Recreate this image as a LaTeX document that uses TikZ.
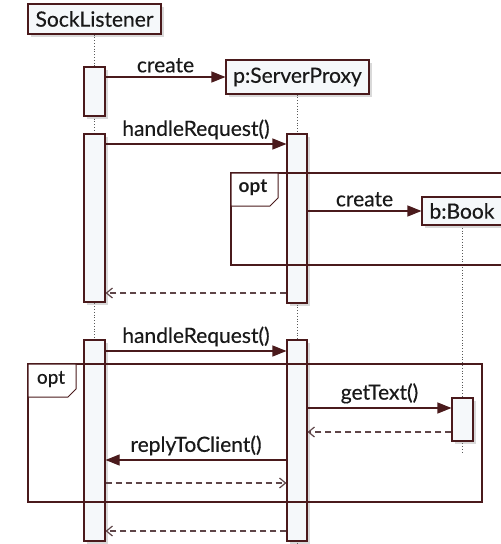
\documentclass[tikz,border=0pt]{standalone}
\usepackage{fontspec}
\setmainfont{Lato}[FakeBold=0.4, BoldFont=Lato Bold, BoldFeatures={FakeBold=0}]
\usetikzlibrary{arrows.meta,shadows}
\definecolor{ln}{HTML}{4A1A1C}
\definecolor{bx}{HTML}{F5F8FA}
\definecolor{dl}{HTML}{5E4548}
\begin{document}
\begin{tikzpicture}[x=1pt,y=-1pt, font=\fontsize{21}{24}\selectfont,
 obj/.style={draw=ln, line width=1.1pt, fill=bx, inner sep=0pt, text=black!90,
   drop shadow={opacity=0.3,shadow xshift=2.5pt,shadow yshift=-2.5pt}},
 act/.style={obj, minimum width=21pt},
 msg/.style={draw=ln, line width=1.1pt, -{Triangle[length=14pt,width=11pt]}},
 ret/.style={draw=dl, line width=1.2pt, dash pattern=on 6pt off 4pt, -{Straight Barb[length=6pt,width=10pt]}},
 life/.style={draw=gray!70!black, line width=0.8pt, dotted},
 frm/.style={draw=ln, line width=1.1pt},
 tag/.style={draw=ln, line width=1pt, fill=white},
 lbl/.style={midway, above, inner sep=4pt, text=black!90}]
\useasboundingbox (0,0) rectangle (501,544);
\clip (0,0) rectangle (501,544);
\coordinate (bot) at (0,544);
\coordinate (bbot) at (0,452);
% heads
\node[obj, minimum width=133pt, minimum height=30pt] (sock) at (94.5,19) {SockListener};
\node[obj, minimum width=143pt, minimum height=34pt] (proxy) at (297.5,77) {p:ServerProxy};
% lifelines
\draw[life] (sock.south) -- (sock.south |- bot);
\draw[life] (proxy.south) -- (proxy.south |- bot);
\coordinate (btop) at (462,211);
\draw[life] (btop) -- (btop |- bbot);
% activations
\node[act, minimum height=49pt] (sa1) at (94.5,91.5) {};
\node[act, minimum height=168pt] (sa2) at (94.5,218) {};
\node[act, minimum height=201pt] (sa3) at (94.5,440.5) {};
\node[act, minimum width=20pt, minimum height=169pt] (pa1) at (297,218.5) {};
\node[act, minimum width=20pt, minimum height=201pt] (pa2) at (297,440.5) {};
\node[act, minimum height=43pt] (ba1) at (462.5,419.5) {};
% frames
\draw[frm] (231,173) rectangle (530,265);
\draw[tag] (231,173) -- (278,173) -- (278,198) -- (270,206) -- (231,206) -- cycle;
\node[font=\fontsize{19}{22}\selectfont\bfseries, text=black!90] (opt1) at (253,188) {opt};
\draw[frm] (28,364) rectangle (482,502);
\draw[tag] (28,364) -- (76,364) -- (76,389) -- (68,397) -- (28,397) -- cycle;
\node[font=\fontsize{19}{22}\selectfont, text=black!90] (opt2) at (51,379) {opt};
% book head
\node[obj, minimum width=80pt, minimum height=28pt] (book) at (462,211) {b:Book};
% message levels
\coordinate (m2) at (0,144);
\coordinate (r1) at (0,293);
\coordinate (m4) at (0,351);
\coordinate (m5) at (0,408);
\coordinate (r2) at (0,432);
\coordinate (m6) at (0,460);
\coordinate (r3) at (0,483);
\coordinate (r4) at (0,531);
% messages
\draw[msg] (sa1.east |- proxy.west) -- node[lbl]{create} (proxy.west);
\draw[msg] (sa2.east |- m2) -- node[lbl]{handleRequest()} (pa1.west |- m2);
\draw[msg] (pa1.east |- book.west) -- node[lbl]{create} (book.west);
\draw[ret] (pa1.west |- r1) -- (sa2.east |- r1);
\draw[msg] (sa3.east |- m4) -- node[lbl]{handleRequest()} (pa2.west |- m4);
\draw[msg] (pa2.east |- m5) -- node[lbl]{getText()} (ba1.west |- m5);
\draw[ret] (ba1.west |- r2) -- (pa2.east |- r2);
\draw[msg] (pa2.west |- m6) -- node[lbl]{replyToClient()} (sa3.east |- m6);
\draw[ret] (sa3.east |- r3) -- (pa2.west |- r3);
\draw[ret] (pa2.west |- r4) -- (sa3.east |- r4);
\end{tikzpicture}
\end{document}
